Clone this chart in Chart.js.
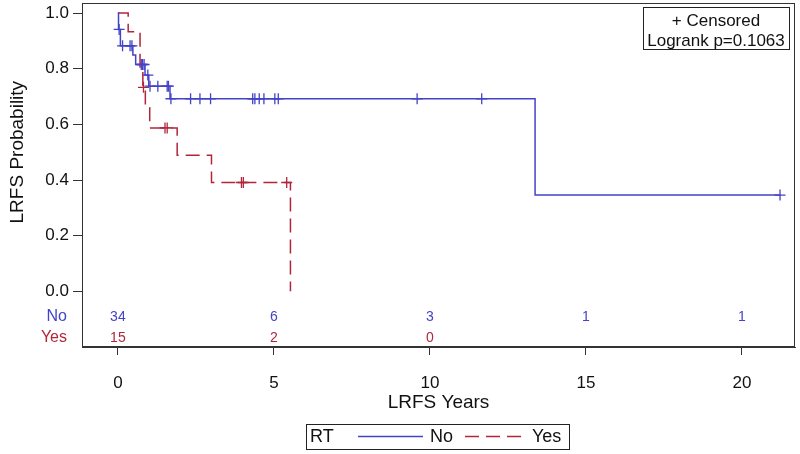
<!DOCTYPE html>
<html>
<head>
<meta charset="utf-8">
<script src="https://cdn.jsdelivr.net/npm/chart.js@4.4.0/dist/chart.umd.min.js"></script>
<style>
  html, body { margin: 0; padding: 0; background: #fff; }
  #wrap { width: 800px; height: 454px; }
</style>
</head>
<body>
<div id="wrap"><canvas id="km"></canvas></div>
<script>
// Kaplan-Meier steps (time in years, survival after the event)
const noTimes = [0, 0.02, 0.08, 0.48, 0.57, 0.87, 0.99, 1.67, 13.37, 21.22];
const noSurv = [1.0, 0.941, 0.882, 0.849, 0.815, 0.777, 0.737, 0.692, 0.346, 0.346];
const noCensorTimes = [0.04, 0.15, 0.39, 0.45, 0.75, 0.79, 0.84, 0.96, 1.03, 1.28, 1.58, 1.62,
  1.70, 2.33, 2.63, 2.97, 4.32, 4.39, 4.53, 4.68, 5.03, 5.14, 9.59, 11.66, 21.22];
const noCensorSurv = [0.941, 0.882, 0.882, 0.882, 0.815, 0.815, 0.815, 0.777, 0.737, 0.737, 0.737, 0.737,
  0.692, 0.692, 0.692, 0.692, 0.692, 0.692, 0.692, 0.692, 0.692, 0.692, 0.692, 0.692, 0.346];

const yesTimes = [0, 0.33, 0.71, 0.80, 0.88, 1.02, 1.90, 3.00, 5.53];
const yesSurv = [1.0, 0.933, 0.800, 0.733, 0.660, 0.587, 0.489, 0.391, 0.0];
const yesCensorTimes = [0.82, 1.51, 1.58, 3.96, 4.02, 5.41];
const yesCensorSurv = [0.733, 0.587, 0.587, 0.391, 0.391, 0.391];

// number at risk table
const riskTimes = [0, 5, 10, 15, 20];
const noAtRisk = [34, 6, 3, 1, 1];
const yesAtRisk = [15, 2, 0];

const xTicks = [0, 5, 10, 15, 20];
const yTicks = [0, 0.2, 0.4, 0.6, 0.8, 1.0];

const blue = "#4343c8";
const red = "#b0263a";
const font = "'Liberation Sans', Arial, sans-serif";

function pts(xs, ys) {
  return xs.map((x, i) => ({ x: x, y: ys[i] }));
}

// frame, axis titles, at-risk rows, inset box and legend
const kmExtras = {
  id: "kmExtras",
  afterDraw(chart) {
    const ctx = chart.ctx;
    const a = chart.chartArea;
    const xs = chart.scales.x;
    const ys = chart.scales.y;
    ctx.save();

    ctx.strokeStyle = "#333";
    ctx.lineWidth = 1;
    ctx.strokeRect(a.left + 0.5, a.top + 0.5, a.right - a.left - 1, a.bottom - a.top - 1);

    ctx.fillStyle = "#111";
    ctx.textAlign = "center";
    ctx.textBaseline = "middle";
    ctx.font = "19px " + font;
    ctx.fillText("LRFS Years", (a.left + a.right) / 2, 403);

    ctx.save();
    ctx.translate(18, ys.getPixelForValue(0.5));
    ctx.rotate(-Math.PI / 2);
    ctx.fillText("LRFS Probability", 0, 0);
    ctx.restore();

    // at risk
    ctx.font = "16px " + font;
    ctx.textAlign = "right";
    ctx.fillStyle = blue;
    ctx.fillText("No", 67, 317);
    ctx.fillStyle = red;
    ctx.fillText("Yes", 67, 338);
    ctx.font = "14px " + font;
    ctx.textAlign = "center";
    riskTimes.forEach(function (t, i) {
      const px = xs.getPixelForValue(t);
      ctx.fillStyle = blue;
      ctx.fillText(String(noAtRisk[i]), px, 317);
      if (i < yesAtRisk.length) {
        ctx.fillStyle = red;
        ctx.fillText(String(yesAtRisk[i]), px, 338);
      }
    });

    // inset box
    ctx.strokeStyle = "#222";
    ctx.strokeRect(643.5, 7.5, 146, 42);
    ctx.fillStyle = "#111";
    ctx.font = "17px " + font;
    ctx.fillText("+ Censored", 716, 21);
    ctx.fillText("Logrank p=0.1063", 716, 41);

    // legend
    ctx.strokeRect(306.5, 424.5, 263, 25);
    ctx.font = "18px " + font;
    ctx.textAlign = "left";
    ctx.fillText("RT", 310, 437);
    ctx.fillText("No", 430, 437);
    ctx.fillText("Yes", 532, 437);
    ctx.lineWidth = 1.5;
    ctx.strokeStyle = blue;
    ctx.beginPath();
    ctx.moveTo(358, 436.5);
    ctx.lineTo(423, 436.5);
    ctx.stroke();
    ctx.strokeStyle = red;
    ctx.setLineDash([14, 7]);
    ctx.beginPath();
    ctx.moveTo(465, 436.5);
    ctx.lineTo(523, 436.5);
    ctx.stroke();

    ctx.restore();
  },
};

const tickFont = { family: font, size: 17 };

new Chart(document.getElementById("km"), {
  type: "line",
  data: {
    datasets: [
      {
        data: pts(noTimes, noSurv),
        borderColor: blue,
        borderWidth: 1.5,
        stepped: true,
        pointRadius: 0,
        fill: false,
      },
      {
        data: pts(yesTimes, yesSurv),
        borderColor: red,
        borderWidth: 1.5,
        borderDash: [14, 7],
        stepped: true,
        pointRadius: 0,
        fill: false,
      },
      {
        data: pts(noCensorTimes, noCensorSurv),
        showLine: false,
        pointStyle: "cross",
        pointRadius: 5.5,
        pointBorderWidth: 1.3,
        pointBorderColor: blue,
      },
      {
        data: pts(yesCensorTimes, yesCensorSurv),
        showLine: false,
        pointStyle: "cross",
        pointRadius: 5.5,
        pointBorderWidth: 1.3,
        pointBorderColor: red,
      },
    ],
  },
  options: {
    responsive: true,
    maintainAspectRatio: false,
    animation: false,
    devicePixelRatio: 1,
    layout: { autoPadding: false, padding: { left: 0, right: 5, top: 3, bottom: 0 } },
    plugins: {
      legend: { display: false },
      tooltip: { enabled: false },
    },
    scales: {
      x: {
        type: "linear",
        min: -1.15,
        max: 21.7,
        afterBuildTicks: (s) => { s.ticks = xTicks.map((v) => ({ value: v })); },
        afterFit: (s) => { s.height = 107; s.paddingLeft = 0; s.paddingRight = 0; },
        ticks: { font: tickFont, color: "#111", padding: 18 },
        grid: { drawOnChartArea: false, tickLength: 8, color: "#333" },
        border: { color: "#333" },
      },
      y: {
        min: -0.2,
        max: 1.036,
        afterBuildTicks: (s) => { s.ticks = yTicks.map((v) => ({ value: v })); },
        afterFit: (s) => { s.width = 82; s.paddingTop = 0; s.paddingBottom = 0; },
        ticks: { font: tickFont, color: "#111", padding: 4, callback: (v) => v.toFixed(1) },
        grid: { drawOnChartArea: false, tickLength: 9, color: "#333" },
        border: { color: "#333" },
      },
    },
  },
  plugins: [kmExtras],
});
</script>
</body>
</html>
